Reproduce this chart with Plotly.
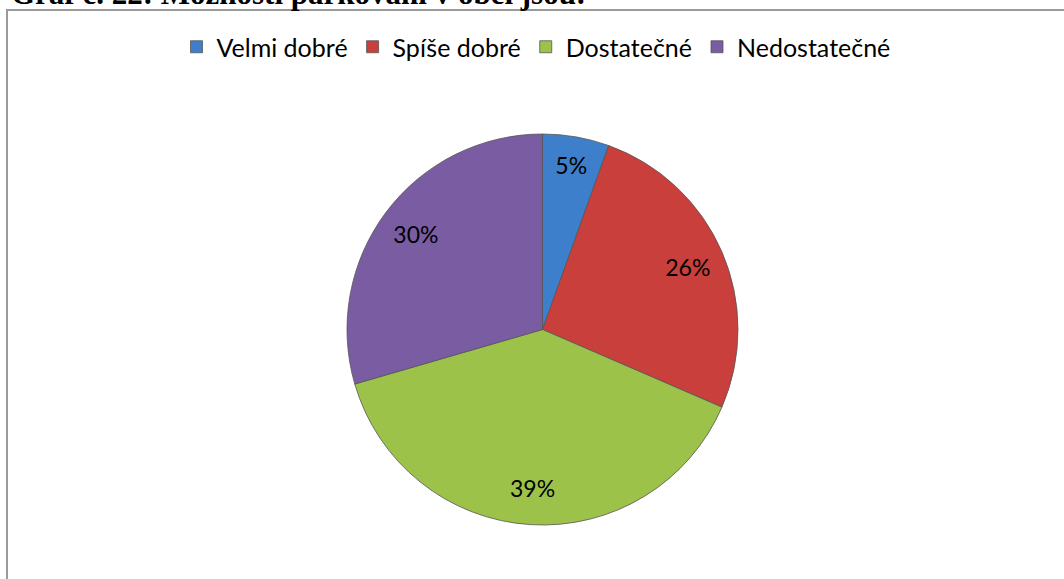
import plotly.graph_objects as go

# data
labels = ["Velmi dobré", "Spíše dobré", "Dostatečné", "Nedostatečné"]
values = [5.5, 26, 39, 29.5]
value_text = ["5%", "26%", "39%", "30%"]
colors = ["#3e7fcc", "#c93f3c", "#9cc24a", "#7a5ca3"]

title_text = "Graf č. 22: Možnosti parkování v obci jsou:"

W, H = 1064, 579


def px_x(p):
    return p / W


def px_y(p):
    return 1 - p / H


# pie square: 347..738 horizontally, 134..525 vertically (page pixels)
pie_domain = dict(x=[px_x(347), px_x(738)], y=[px_y(525), px_y(134)])

fig = go.Figure()

# coloured slices
fig.add_trace(go.Pie(labels=labels, values=values,
                     sort=False, direction="clockwise", rotation=0,
                     marker=dict(colors=colors, line=dict(color="#555555", width=0.8)),
                     textinfo="none", hoverinfo="label+percent",
                     domain=pie_domain))

# transparent ring, only used to place the percent labels near the rim
fig.add_trace(go.Pie(labels=labels, values=values, hole=0.62,
                     sort=False, direction="clockwise", rotation=0,
                     marker=dict(colors=["rgba(0,0,0,0)"] * 4,
                                 line=dict(width=0)),
                     text=value_text, textinfo="text",
                     textposition="inside", insidetextorientation="horizontal",
                     textfont=dict(family="Lato", size=23, color="black"),
                     showlegend=False, hoverinfo="skip",
                     domain=pie_domain))

# frame of the chart area
fig.add_shape(type="rect", xref="paper", yref="paper",
              x0=px_x(7), x1=1.02, y0=-0.02, y1=px_y(10),
              line=dict(color="#9a9a9a", width=2), fillcolor="rgba(0,0,0,0)")

# caption above the chart, partly cut by the page edge
fig.add_annotation(text="<b>" + title_text + "</b>", xref="paper", yref="paper",
                   x=px_x(9), y=px_y(13), xanchor="left", yanchor="bottom",
                   showarrow=False,
                   font=dict(family="Liberation Serif", size=31, color="black"))

fig.update_layout(
    width=W, height=H,
    margin=dict(l=0, r=0, t=0, b=0),
    paper_bgcolor="white", plot_bgcolor="white",
    legend=dict(orientation="h", x=px_x(536), xanchor="center",
                y=px_y(47), yanchor="middle",
                font=dict(family="Lato", size=25, color="black"),
                bgcolor="rgba(0,0,0,0)"),
)

# drop the default body margin so the figure sits at the page corner
fig.write_html("out.html", config={"displayModeBar": False},
               post_script="document.body.style.margin = '0';")
